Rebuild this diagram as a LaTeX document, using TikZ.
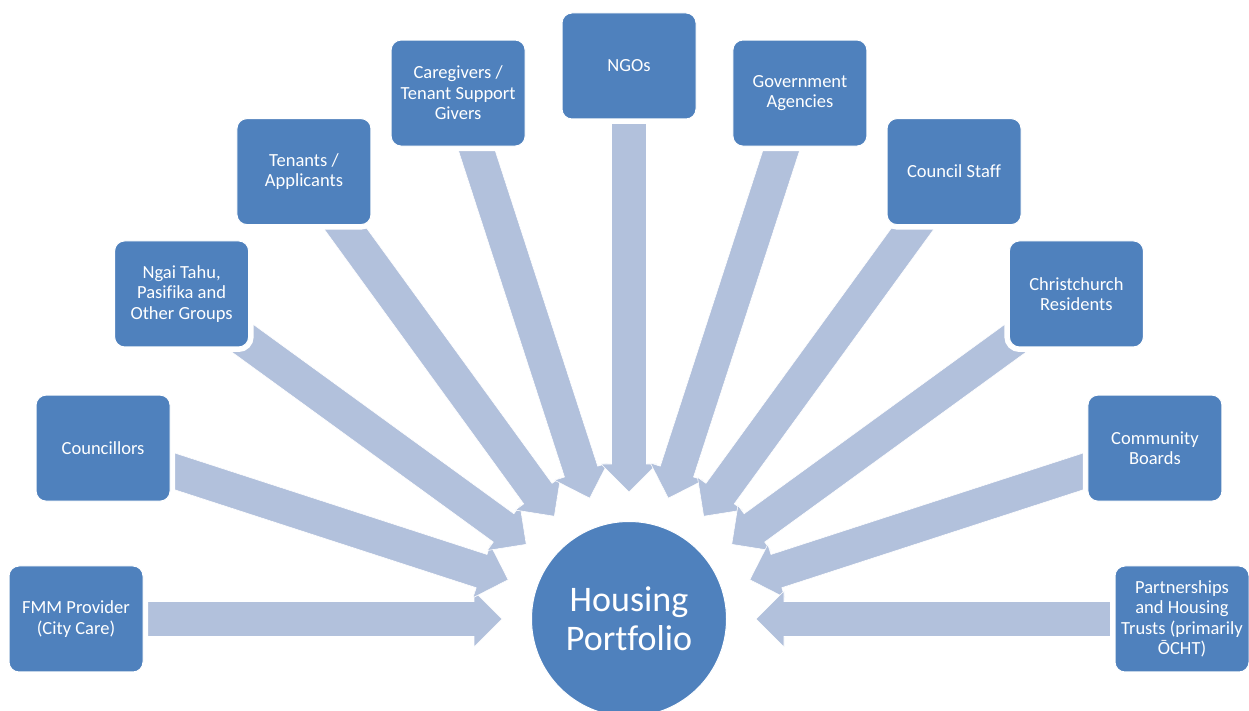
\documentclass[tikz,border=0pt]{standalone}
\usepackage{fontspec}
\setmainfont[Ligatures={NoCommon}]{Carlito}
\usetikzlibrary{calc}
\definecolor{boxblue}{HTML}{4F81BD}
\definecolor{arrowblue}{HTML}{B2C1DC}
\begin{document}
\begin{tikzpicture}[x=1pt,y=1pt,
  box/.style={fill=boxblue, draw=white, line width=1pt, rounded corners=10pt,
    minimum width=134pt, minimum height=106pt, inner sep=2pt, align=center,
    text=white, font=\fontsize{18.5}{20.5}\selectfont,
    preaction={draw=white, line width=10pt}},
  hubnode/.style={circle, fill=boxblue, draw=white, line width=1pt, minimum size=195pt,
    inner sep=0pt, align=center, text=white, font=\fontsize{36}{39}\selectfont},
  blockarrow/.style={fill=arrowblue, draw=white, line width=0.6pt}]
\useasboundingbox (0,0) rectangle (1249,711);
\coordinate (hub) at (629,92);
% arrows (under the boxes)
\foreach \a in {180,162,144,126,108,90,72,54,36,18,0}{
  \begin{scope}[shift={(hub)}, rotate=\a]
    \path[blockarrow] (127,0) -- (155,28) -- (155,17.5) -- (553,17.5) -- (553,-17.5) -- (155,-17.5) -- (155,-28) -- cycle;
  \end{scope}
}
\node[hubnode] (hp) at (hub) {Housing\\Portfolio};
\node[box] (b1) at ($(hub)+(180:553)$) {FMM Provider\\(City Care)};
\node[box] (b2) at ($(hub)+(162:553)$) {Councillors};
\node[box] (b3) at ($(hub)+(144:553)$) {Ngai Tahu,\\Pasifika and\\Other Groups};
\node[box] (b4) at ($(hub)+(126:553)$) {Tenants /\\Applicants};
\node[box] (b5) at ($(hub)+(108:553)$) {Caregivers /\\Tenant Support\\Givers};
\node[box] (b6) at ($(hub)+(90:553)$) {NGOs};
\node[box] (b7) at ($(hub)+(72:553)$) {Government\\Agencies};
\node[box] (b8) at ($(hub)+(54:553)$) {Council Staff};
\node[box] (b9) at ($(hub)+(36:553)$) {Christchurch\\Residents};
\node[box] (b10) at ($(hub)+(18:553)$) {Community\\Boards};
\node[box] (b11) at ($(hub)+(0:553)$) {Partnerships\\and Housing\\Trusts (primarily\\ŌCHT)};
\end{tikzpicture}
\end{document}
